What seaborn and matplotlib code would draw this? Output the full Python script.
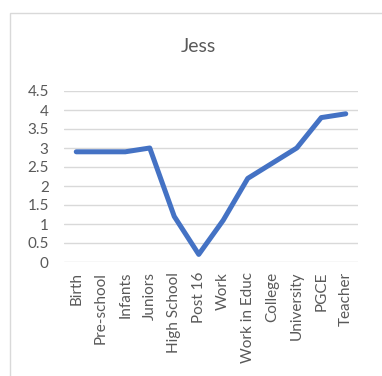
import matplotlib
matplotlib.use("Agg")
import matplotlib.pyplot as plt
from matplotlib.patches import Rectangle
import seaborn as sns
import pandas as pd

# Life stages and scores for Jess
stages = ["Birth", "Pre-school", "Infants", "Juniors", "High School", "Post 16",
          "Work", "Work in Educ", "College", "University", "PGCE", "Teacher"]
scores = [2.9, 2.9, 2.9, 3.0, 1.2, 0.2, 1.1, 2.2, 2.6, 3.0, 3.8, 3.9]
y_ticks = [0, 0.5, 1, 1.5, 2, 2.5, 3, 3.5, 4, 4.5]
y_tick_labels = ["0", "0.5", "1", "1.5", "2", "2.5", "3", "3.5", "4", "4.5"]

sns.set_theme(style="white")
plt.rcParams["font.family"] = ["Lato", "DejaVu Sans"]

df = pd.DataFrame({"stage": stages, "score": scores})
df["pos"] = range(len(stages))

fig = plt.figure(figsize=(3.82, 3.76), dpi=100)
ax = fig.add_axes([64 / 382, 1 - 262 / 376, (358 - 64) / 382, (262 - 91) / 376])

sns.lineplot(data=df, x="pos", y="score", ax=ax, color="#4472C4",
             linewidth=3.6, sort=False, solid_capstyle="round",
             solid_joinstyle="round")

ax.set_xlim(-0.5, len(stages) - 0.5)
ax.set_ylim(0, 4.5)
ax.set_xticks(df["pos"])
ax.set_xticklabels(stages, rotation=90, fontsize=11, color="#595959")
ax.set_yticks(y_ticks)
ax.set_yticklabels(y_tick_labels, fontsize=11, color="#595959")
ax.tick_params(axis="x", length=0, pad=7)
ax.tick_params(axis="y", length=0, pad=11)
ax.set_xlabel("")
ax.set_ylabel("")

for y in y_ticks:
    ax.axhline(y, color="#D9D9D9", linewidth=1.0, zorder=0)
for s in ax.spines.values():
    s.set_visible(False)

fig.text(198 / 382, 1 - 46 / 376, "Jess", ha="center", va="center",
         fontsize=14, color="#595959")

# Chart frame
fig.patches.append(Rectangle((9.5 / 382, -0.1), 1.2, 1.1 - 13.5 / 376,
                             transform=fig.transFigure, fill=False,
                             edgecolor="#D9D9D9", linewidth=1.0))

fig.savefig("out.png", dpi=100)
